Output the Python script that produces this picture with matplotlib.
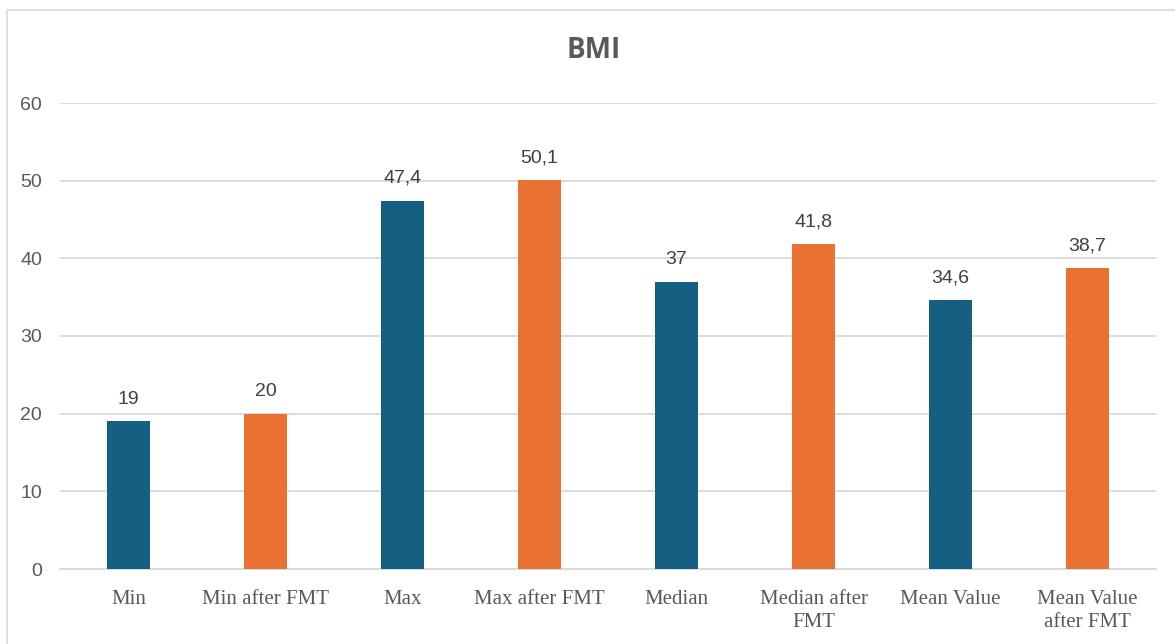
import matplotlib
matplotlib.use("Agg")
import matplotlib.pyplot as plt
from matplotlib.patches import Rectangle
from matplotlib import font_manager

categories = ["Min", "Min after FMT", "Max", "Max after FMT", "Median",
              "Median after\nFMT", "Mean Value", "Mean Value\nafter FMT"]
values = [19, 20, 47.4, 50.1, 37, 41.8, 34.6, 38.7]
value_labels = ["19", "20", "47,4", "50,1", "37", "41,8", "34,6", "38,7"]
y_ticks = [0, 10, 20, 30, 40, 50, 60]

BLUE = "#156082"
ORANGE = "#E97132"
bar_colors = [BLUE, ORANGE] * 4

installed = {f.name for f in font_manager.fontManager.ttflist}
narrow = "Liberation Sans Narrow" if "Liberation Sans Narrow" in installed else "Liberation Sans"

fig = plt.figure(figsize=(11.75, 6.44), dpi=100)
fig.patch.set_facecolor("white")

# light chart frame
fig.add_artist(Rectangle((7 / 1175, -0.05), 1.2, 1 - 10 / 644 + 0.05,
                         transform=fig.transFigure, fill=False,
                         edgecolor="#D9D9D9", linewidth=1.2))

ax = fig.add_axes([60 / 1175, 1 - 569 / 644, (1156 - 60) / 1175, (569 - 103) / 644])
x = range(len(categories))
bars = ax.bar(x, values, width=0.315, color=bar_colors, zorder=3)

ax.set_xlim(-0.5, len(categories) - 0.5)
ax.set_ylim(0, 60)
ax.set_yticks(y_ticks)
ax.set_yticklabels([str(t) for t in y_ticks], fontfamily=narrow, fontsize=14,
                   color="#595959")
ax.set_xticks(list(x))
ax.set_xticklabels(categories, fontfamily="Liberation Serif", fontsize=15,
                   color="#595959", linespacing=1.3)
ax.tick_params(axis="y", length=0, pad=13)
ax.tick_params(axis="x", length=0, pad=15)

ax.grid(axis="y", color="#D9D9D9", linewidth=1.3, zorder=0)
for side in ("top", "right", "left"):
    ax.spines[side].set_visible(False)
ax.spines["bottom"].set_color("#D9D9D9")
ax.spines["bottom"].set_linewidth(1.3)

for b, lab in zip(bars, value_labels):
    ax.annotate(lab, (b.get_x() + b.get_width() / 2, b.get_height()),
                xytext=(0, 10), textcoords="offset points", ha="center",
                va="bottom", fontfamily=narrow, fontsize=14, color="#404040")

fig.text(594 / 1175, 1 - 51 / 644, "BMI", ha="center", va="center",
         fontfamily="Open Sans", fontweight="bold", fontsize=20, color="#595959")

fig.savefig("out.png", dpi=100, facecolor="white")
